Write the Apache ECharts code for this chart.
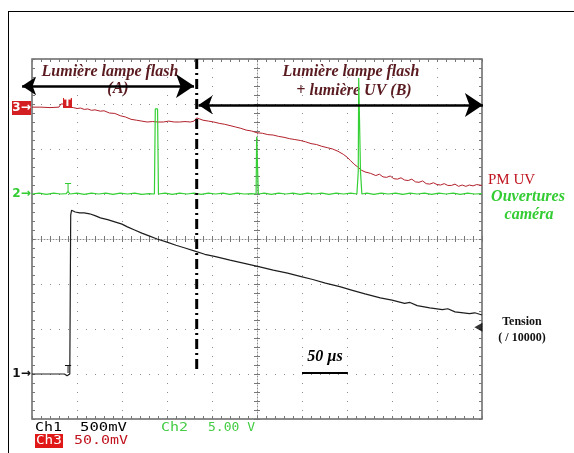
<!DOCTYPE html>
<html><head><meta charset="utf-8">
<script src="https://cdn.jsdelivr.net/npm/echarts@6/dist/echarts.min.js"></script>
<style>html,body{margin:0;padding:0;background:#fff}#c{width:574px;height:453px}</style>
</head><body><div id="c"></div>
<script>
// time in µs (50 µs / division), vertical position in screen divisions (0 = bottom, 8 = top)
const ch3Trace = [[0,6.93],[10,6.93],[20,6.92],[30,6.93],[32,7.0],[38,7.0],[41,6.93],[46,6.92],[50,6.9],[54,6.91],[58,6.88],[62,6.89],[66,6.86],[70,6.87],[76,6.84],[80,6.85],[86,6.8],[92,6.79],[98,6.74],[104,6.71],[110,6.66],[116,6.64],[122,6.62],[128,6.6],[134,6.61],[140,6.6],[146,6.6],[152,6.62],[158,6.6],[164,6.6],[170,6.61],[176,6.6],[180,6.62],[183,6.69],[186,6.67],[190,6.64],[196,6.62],[202,6.6],[208,6.57],[214,6.55],[220,6.52],[226,6.49],[232,6.46],[238,6.42],[244,6.4],[250,6.36],[256,6.35],[262,6.32],[268,6.31],[274,6.28],[280,6.26],[286,6.23],[292,6.21],[298,6.19],[304,6.16],[310,6.12],[316,6.1],[322,6.06],[328,6.03],[334,6.0],[340,5.95],[346,5.88],[350,5.82],[354,5.74],[358,5.66],[362,5.6],[366,5.53],[370,5.49],[376,5.46],[382,5.41],[386,5.44],[390,5.38],[394,5.37],[398,5.4],[402,5.34],[406,5.33],[410,5.36],[414,5.31],[418,5.3],[422,5.33],[426,5.27],[430,5.26],[434,5.29],[438,5.23],[442,5.22],[446,5.25],[450,5.21],[454,5.2],[458,5.23],[462,5.19],[466,5.19],[470,5.22],[474,5.17],[478,5.2],[482,5.17],[486,5.2],[490,5.18],[494,5.21],[500,5.19]];
const ch2Trace = [[0,5.0],[8,5.02],[16,4.99],[24,5.02],[32,5.0],[38,5.01],[40,5.06],[42,5.0],[50,5.02],[58,4.99],[66,5.02],[74,5.0],[82,5.02],[90,4.99],[98,5.02],[106,5.0],[114,5.02],[122,4.99],[130,5.01],[136,5.0],[137,6.89],[139.5,6.89],[140.5,5.0],[148,5.02],[156,4.99],[164,5.02],[172,5.0],[180,5.02],[188,4.99],[196,5.02],[204,5.0],[212,5.02],[220,4.99],[228,5.02],[236,5.0],[244,5.01],[249,5.0],[249.6,6.27],[250.8,6.27],[251.5,5.0],[258,5.02],[266,4.99],[274,5.02],[282,5.0],[290,5.02],[298,4.99],[306,5.02],[314,5.0],[322,5.02],[330,4.99],[338,5.02],[346,5.0],[354,5.02],[361,5.0],[362.5,5.5],[363,7.58],[364.5,7.58],[365,5.5],[366.5,5.0],[372,5.02],[380,4.99],[388,5.02],[396,5.0],[404,5.02],[412,4.99],[420,5.02],[428,5.0],[436,5.02],[444,4.99],[452,5.02],[460,5.0],[468,5.02],[476,4.99],[484,5.02],[492,5.0],[500,5.01]];
const ch1Trace = [[0,1.0],[20,1.0],[36,1.0],[39,0.96],[42,1.0],[43,4.53],[44,4.64],[48,4.6],[53,4.58],[58,4.58],[64,4.56],[70,4.52],[76,4.47],[84,4.43],[92,4.38],[100,4.33],[106,4.27],[114,4.2],[122,4.13],[130,4.07],[139,4.0],[150,3.93],[160,3.86],[170,3.8],[181,3.73],[192,3.66],[204,3.61],[220,3.53],[236,3.46],[253,3.38],[268,3.31],[284,3.24],[298,3.17],[312,3.1],[326,3.02],[342,2.94],[356,2.86],[370,2.78],[387,2.69],[400,2.64],[414,2.57],[420,2.59],[428,2.52],[442,2.47],[456,2.43],[462,2.45],[470,2.38],[486,2.34],[492,2.36],[500,2.31]];
const cursorLine = [[183,8.0],[183,1.08]];
const arrowA = [[-11,7.4],[180,7.4]];
const arrowB = [[185,6.98],[501,6.98]];
const scaleBar = [[300,1.02],[351,1.02]];
const levelMarker = [[496,2.04]];

const tickStyle = {color:'#777', width:1};
function frameX(pos, extra){
  return Object.assign({type:'value', min:0, max:500, interval:50, position:pos,
    axisLabel:{show:false}, splitLine:{show:false},
    axisLine:{show:false, onZero:false},
    axisTick:{show:true, inside:true, length:3, lineStyle:tickStyle},
    minorTick:{show:true, splitNumber:5, length:3, lineStyle:tickStyle}}, extra||{});
}
function frameY(pos, extra){
  return Object.assign({type:'value', min:0, max:8, interval:1, position:pos,
    axisLabel:{show:false}, splitLine:{show:false},
    axisLine:{show:false, onZero:false},
    axisTick:{show:true, inside:true, length:3, lineStyle:tickStyle},
    minorTick:{show:true, splitNumber:5, length:3, lineStyle:tickStyle}}, extra||{});
}
const dotted = {show:true, lineStyle:{color:'#8c8c8c', width:1, type:[1,8]}};
const centerLine = {show:true, onZero:false, lineStyle:{color:'#8c8c8c', width:1, type:[1,2]}};

const chart = echarts.init(document.getElementById('c'), null, {renderer:'canvas'});
const serif = '"Liberation Serif","DejaVu Serif",serif';
const mono = '"DejaVu Sans Mono","Liberation Mono",monospace';
const arrowSeries = (pts) => ({type:'lines', coordinateSystem:'cartesian2d', polyline:false, clip:false, silent:true, z:7,
  symbol:['arrow','arrow'], symbolSize:[14,18],
  lineStyle:{color:'#000', width:2.5, opacity:1, curveness:0},
  data:[{coords:pts}]});
chart.setOption({
  animation:false,
  backgroundColor:'#fff',
  grid:{left:32, top:59, width:450, height:360, show:true, borderColor:'#666', borderWidth:1.5, backgroundColor:'transparent'},
  xAxis:[
    frameX('bottom', {splitLine:dotted}),
    frameX('top'),
    frameX('bottom', {offset:-180, axisLine:centerLine}),
    frameX('bottom', {offset:-180, axisTick:{show:true, inside:false, length:3, lineStyle:tickStyle}})
  ],
  yAxis:[
    frameY('left', {splitLine:dotted}),
    frameY('right'),
    frameY('right', {offset:-225, axisLine:centerLine}),
    frameY('right', {offset:-225, axisTick:{show:true, inside:false, length:3, lineStyle:tickStyle}})
  ],
  series:[
    {type:'line', data:ch3Trace, symbol:'none', lineStyle:{color:'#b3212b', width:1}, z:3},
    {type:'line', data:ch2Trace, symbol:'none', lineStyle:{color:'#35d035', width:1.2}, z:4},
    {type:'line', data:ch1Trace, symbol:'none', lineStyle:{color:'#1e1e1e', width:1.2}, z:5},
    {type:'line', data:cursorLine, symbol:'none', lineStyle:{color:'#000', width:3, type:[10,4,2,4]}, z:6},
    {type:'line', data:scaleBar, symbol:'none', lineStyle:{color:'#000', width:2}, z:6},
    arrowSeries(arrowA),
    arrowSeries(arrowB),
    {type:'scatter', data:levelMarker, symbol:'triangle', symbolRotate:90, symbolSize:[9,8], clip:false,
      itemStyle:{color:'#000'}, z:8}
  ],
  graphic:[
    {type:'line', shape:{x1:8, y1:11.5, x2:574, y2:11.5}, style:{stroke:'#000', lineWidth:1}},
    {type:'line', shape:{x1:8.5, y1:11, x2:8.5, y2:453}, style:{stroke:'#000', lineWidth:1}},
    {type:'text', x:110, y:72, style:{text:'Lumière lampe flash', font:'italic bold 16px '+serif, fill:'#5a1b20', align:'center', verticalAlign:'middle'}},
    {type:'text', x:118, y:89, style:{text:'(A)', font:'italic bold 16px '+serif, fill:'#5a1b20', align:'center', verticalAlign:'middle'}},
    {type:'text', x:351, y:72, style:{text:'Lumière lampe flash', font:'italic bold 16px '+serif, fill:'#5a1b20', align:'center', verticalAlign:'middle'}},
    {type:'text', x:354, y:91, style:{text:'+ lumière UV (B)', font:'italic bold 16px '+serif, fill:'#5a1b20', align:'center', verticalAlign:'middle'}},
    {type:'text', x:488, y:180, style:{text:'PM UV', font:'15px '+serif, fill:'#c0141e', align:'left', verticalAlign:'middle'}},
    {type:'text', x:528, y:197, style:{text:'Ouvertures', font:'italic bold 16px '+serif, fill:'#33cc33', align:'center', verticalAlign:'middle'}},
    {type:'text', x:529, y:215, style:{text:'caméra', font:'italic bold 16px '+serif, fill:'#33cc33', align:'center', verticalAlign:'middle'}},
    {type:'text', x:522, y:322, style:{text:'Tension', font:'bold 12px '+serif, fill:'#111', align:'center', verticalAlign:'middle'}},
    {type:'text', x:522, y:338, style:{text:'( / 10000)', font:'bold 12px '+serif, fill:'#111', align:'center', verticalAlign:'middle'}},
    {type:'text', x:325, y:357, style:{text:'50 µs', font:'italic bold 16px '+serif, fill:'#000', align:'center', verticalAlign:'middle'}},
    {type:'rect', shape:{x:12, y:101, width:19, height:14}, style:{fill:'#d41f22'}},
    {type:'text', x:21.5, y:108, style:{text:'3→', font:'bold 12px "DejaVu Sans",sans-serif', fill:'#fff', align:'center', verticalAlign:'middle'}},
    {type:'text', x:21.5, y:194, style:{text:'2→', font:'bold 12px "DejaVu Sans",sans-serif', fill:'#33cc33', align:'center', verticalAlign:'middle'}},
    {type:'text', x:21.5, y:374, style:{text:'1→', font:'bold 12px "DejaVu Sans",sans-serif', fill:'#111', align:'center', verticalAlign:'middle'}},
    {type:'rect', shape:{x:63, y:98, width:9, height:10}, style:{fill:'#d41f22'}, z:10},
    {type:'text', x:67.5, y:103, style:{text:'T', font:'bold 10px "DejaVu Sans",sans-serif', fill:'#fff', align:'center', verticalAlign:'middle'}, z:11},
    {type:'text', x:68, y:188, style:{text:'T', font:'10px "DejaVu Sans",sans-serif', fill:'#33cc33', align:'center', verticalAlign:'middle'}, z:11},
    {type:'text', x:68, y:370, style:{text:'T', font:'10px "DejaVu Sans",sans-serif', fill:'#111', align:'center', verticalAlign:'middle'}, z:11},
    {type:'text', x:35, y:428, scaleX:1.15, style:{text:'Ch1', font:'13px '+mono, fill:'#000', align:'left', verticalAlign:'middle'}},
    {type:'text', x:80, y:428, scaleX:1.2, style:{text:'500mV', font:'13px '+mono, fill:'#000', align:'left', verticalAlign:'middle'}},
    {type:'text', x:161, y:428, scaleX:1.15, style:{text:'Ch2', font:'13px '+mono, fill:'#44cc44', align:'left', verticalAlign:'middle'}},
    {type:'text', x:208, y:428, scaleX:1.0, style:{text:'5.00 V', font:'13px '+mono, fill:'#44cc44', align:'left', verticalAlign:'middle'}},
    {type:'rect', shape:{x:35, y:434, width:28, height:14}, style:{fill:'#e01818'}},
    {type:'text', x:36, y:441, scaleX:1.1, style:{text:'Ch3', font:'13px '+mono, fill:'#fff', align:'left', verticalAlign:'middle'}},
    {type:'text', x:74, y:441, scaleX:1.15, style:{text:'50.0mV', font:'13px '+mono, fill:'#c0141e', align:'left', verticalAlign:'middle'}}
  ]
});
</script></body></html>
